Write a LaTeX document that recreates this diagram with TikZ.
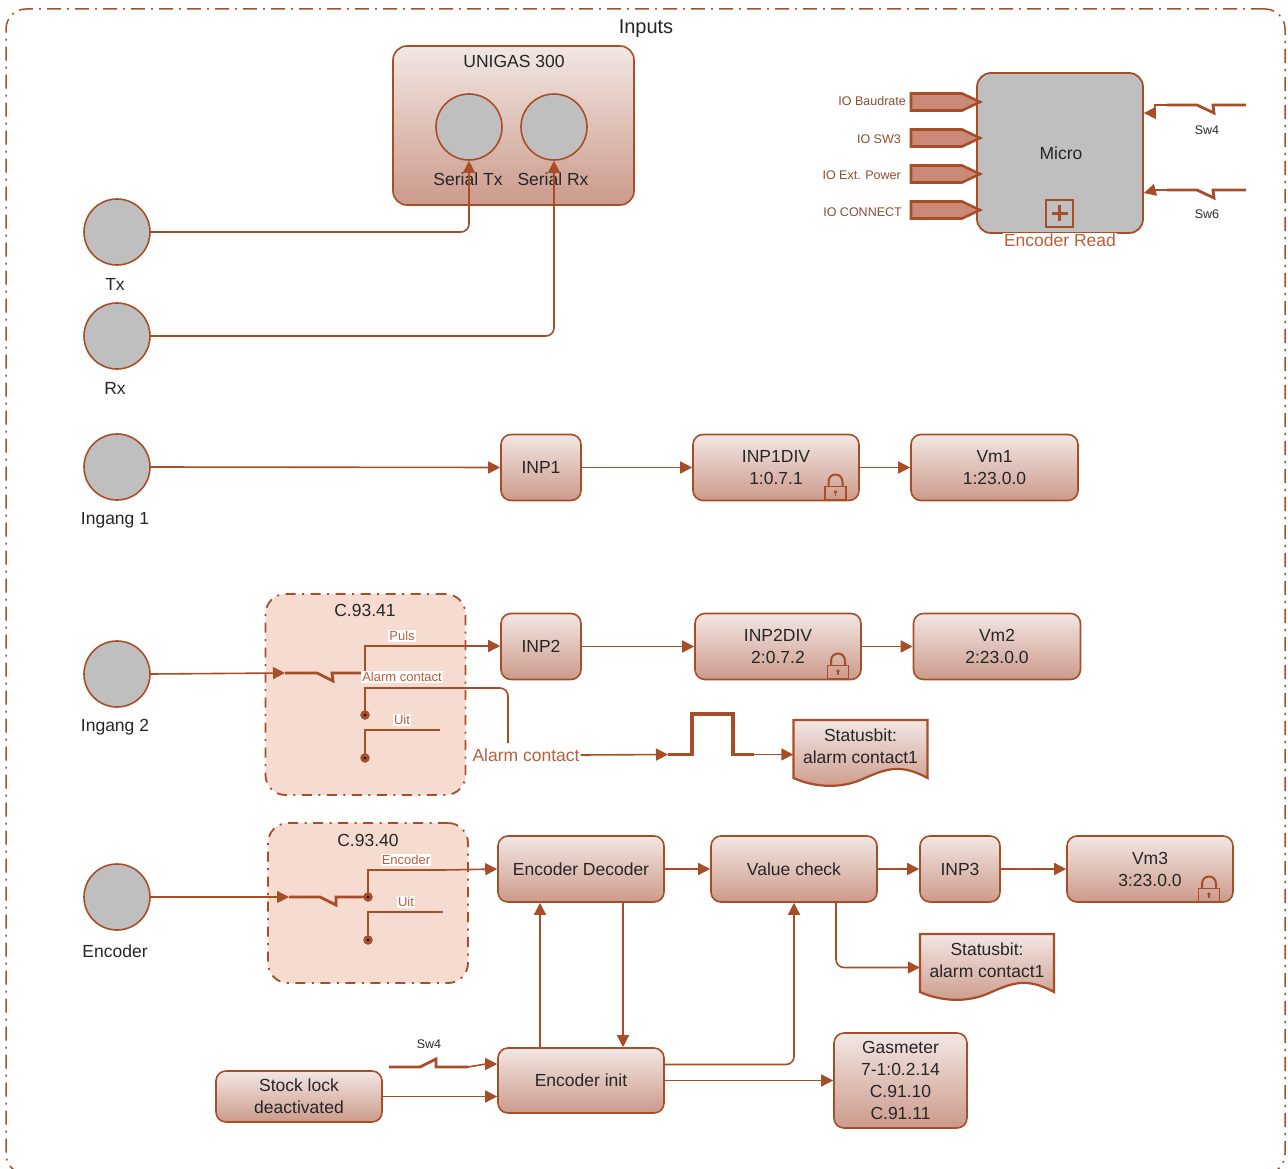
\documentclass[tikz,border=0pt]{standalone}
\usepackage{fontspec}
\setmainfont{Liberation Sans}
\usetikzlibrary{arrows.meta}
\definecolor{wirecol}{HTML}{A84E27}
\definecolor{labelcol}{HTML}{B95F3C}
\definecolor{iocol}{HTML}{8A4B32}
\definecolor{inkcol}{HTML}{262626}
\definecolor{boxtop}{HTML}{F2E7E4}
\definecolor{boxbot}{HTML}{CC9A8B}
\definecolor{greycol}{HTML}{BFBFBF}
\definecolor{tabcol}{HTML}{CB8A78}
\definecolor{groupcol}{HTML}{F5DBD0}
\newcommand{\mainsize}{\fontsize{17.5}{22}\selectfont}
\newcommand{\titlesize}{\fontsize{20}{24}\selectfont}
\newcommand{\smallsize}{\fontsize{13}{15}\selectfont}
\newcommand{\iosize}{\fontsize{12.5}{15}\selectfont}
\newcommand{\swsize}{\fontsize{12.5}{15}\selectfont}
\tikzset{
	padlock/.pic={
		\draw[wirecol,line width=1.8] (-10.5,-13.5) rectangle (10.5,-0.5);
		\draw[wirecol,line width=2] (-7,-13.5)--(-7,-18) .. controls (-7,-28) and (7,-28) .. (7,-18)--(7,-13.5);
		\fill[wirecol] (0,-8) circle (1.8);
		\draw[wirecol,line width=1.3] (0,-8)--(0,-4);
	},
	statusdoc/.pic={
		\draw[wirecol,line width=2.2,top color=boxtop,bottom color=boxbot] (0,0)--(134,0)--(134,58)
			.. controls (105,42) and (90,50) .. (67,60) .. controls (45,69) and (20,67) .. (0,58)--cycle;
		\node(-doc)[font=\mainsize,text=inkcol,align=center,minimum width=134,minimum height=52,inner sep=0] at (67,26.5){Statusbit:\\alarm contact1};
	}
}
\begin{document}
\begin{tikzpicture}[x=1pt,y=-1pt]
	\tikzstyle{value box}=[rectangle,rounded corners=10pt,draw=wirecol,line width=1.6,top color=boxtop,bottom color=boxbot,text=inkcol,font=\mainsize,align=center,minimum height=66,inner sep=0]
	\tikzstyle{grey circle}=[circle,draw=wirecol,line width=1.6,fill=greycol,minimum size=66,inner sep=0]
	\tikzstyle{group box}=[rectangle,rounded corners=20pt,draw=wirecol,line width=1.8,fill=groupcol,dash pattern=on 10pt off 6.5pt on 2pt off 6.5pt,minimum width=200,inner sep=0]
	\tikzstyle{io tab}=[draw=wirecol,line width=2.6,fill=tabcol]
	\tikzstyle{thin wire}=[draw=wirecol,line width=1.6,rounded corners=8pt]
	\tikzstyle{arrow wire}=[thin wire,-{Triangle[length=12pt,width=12pt]}]
	\tikzstyle{thick wire}=[draw=wirecol,line width=2.8]
	\tikzstyle{dot}=[circle,fill=wirecol,draw=wirecol,minimum size=9,inner sep=0]
	\tikzstyle{ink text}=[text=inkcol,font=\mainsize,align=center,inner sep=0]
	\tikzstyle{sw text}=[text=inkcol,font=\swsize,inner sep=0]
	\tikzstyle{io text}=[text=iocol,font=\iosize,anchor=east,inner sep=0]
	\tikzstyle{wire text}=[text=labelcol,font=\smallsize,fill=white,inner sep=1]
	\tikzstyle{big wire text}=[text=labelcol,font=\mainsize,fill=white,inner sep=1]
	\useasboundingbox (0,0) rectangle (1288,1169);
	% outer frame
	\node(frame)[rectangle,rounded corners=20pt,draw=wirecol,line width=1.5,dash pattern=on 14pt off 6pt on 2pt off 6pt,minimum width=1279,minimum height=1165,inner sep=0] at (645.5,591.5){};
	\node(inputs)[ink text,font=\titlesize] at (646,29){Inputs};
	% unigas
	\node(unigas)[value box,minimum width=241,minimum height=159,rounded corners=14pt] at (513.5,125.5){};
	\node(unigastext)[ink text] at (514,61){UNIGAS 300};
	\node(serialtx)[grey circle] at (469,127){};
	\node(serialrx)[grey circle] at (554,127){};
	\node(serialtxtext)[ink text] at (468,179){Serial Tx};
	\node(serialrxtext)[ink text] at (553,179){Serial Rx};
	\node(tx)[grey circle] at (117,232){};
	\node(rx)[grey circle] at (117,336){};
	\node(txtext)[ink text] at (115,284){Tx};
	\node(rxtext)[ink text] at (115,388){Rx};
	\draw[arrow wire](tx.east)-|(serialtx.south);
	\draw[arrow wire](rx.east)-|(serialrx.south);
	% micro
	\node(micro)[rectangle,rounded corners=14pt,draw=wirecol,line width=1.8,fill=greycol,minimum width=166,minimum height=160,inner sep=0] at (1060,153){};
	\node(microtext)[ink text] at (1061,153){Micro};
	\foreach \name/\ypos/\xpos/\ytxt/\txt in {baud/102/906/101/IO Baudrate,swthree/138/901/139/IO SW3,power/174/901/175/IO Ext. Power,connect/210/902/212/IO CONNECT}{
		\draw[io tab](911,\ypos-8.5)--(962,\ypos-8.5)--(980,\ypos)--(962,\ypos+8.5)--(911,\ypos+8.5)--cycle;
		\node(\name)[io text] at (\xpos,\ytxt){\txt};
	}
	\node(encplus)[draw=wirecol,line width=1.8,minimum size=27,inner sep=0] at (1059.5,213.5){};
	\draw[wirecol,line width=3.5](encplus.center)++(-8,0)--++(16,0);
	\draw[wirecol,line width=3.5](encplus.center)++(0,-8)--++(0,16);
	\node(encread)[big wire text] at (1060,240){Encoder Read};
	\draw[thick wire](1246,105)--(1213,105)--(1214,113)--(1197,105)--(1167,105);
	\draw[thick wire](1246,190)--(1213,190)--(1214,198)--(1197,190)--(1167,190);
	\coordinate(swfour) at (1167,105);
	\coordinate(swsix) at (1167,190);
	\draw[thin wire,rounded corners=0pt,-{Triangle[length=12pt,width=12pt]}](swfour)--(1155,105)--(1154,113)--(micro.east|-0,113);
	\draw[thin wire,rounded corners=0pt,-{Triangle[length=12pt,width=12pt]}](swsix)--(1155,190)--(micro.east|-0,193);
	\node(swfourtext)[sw text] at (1207,130){Sw4};
	\node(swsixtext)[sw text] at (1207,214){Sw6};
	% row 1
	\node(ingone)[grey circle] at (117,467){};
	\node(ingonetext)[ink text] at (115,520){Ingang 1};
	\node(inpone)[value box,minimum width=80] at (541,467.5){INP1};
	\node(inponediv)[value box,minimum width=166] at (776,467.5){INP1DIV\\1:0.7.1};
	\node(vmone)[value box,minimum width=167] at (994.5,467.5){Vm1\\1:23.0.0};
	\pic at (835.5,500){padlock};
	\draw[arrow wire](ingone.east)--(inpone.west);
	\draw[arrow wire](inpone.east)--(inponediv.west);
	\draw[arrow wire](inponediv.east)--(vmone.west);
	% row 2
	\node(ingtwo)[grey circle] at (117,674){};
	\node(ingtwotext)[ink text] at (115,727){Ingang 2};
	\node(groupone)[group box,minimum height=201] at (365.5,694.5){};
	\node(grouponetext)[ink text] at (365,610){C.93.41};
	\node(inptwo)[value box,minimum width=80] at (541,646.5){INP2};
	\node(inptwodiv)[value box,minimum width=166] at (778,646.5){INP2DIV\\2:0.7.2};
	\node(vmtwo)[value box,minimum width=167] at (997,646.5){Vm2\\2:23.0.0};
	\pic at (838,679){padlock};
	\coordinate(switchone) at (285,673);
	\coordinate(puls) at (440,646);
	\coordinate(alarm) at (440,688);
	\draw[arrow wire](ingtwo.east)--(switchone);
	\draw[thick wire](switchone)--(317,673)--(333,681)--(332,673)--(361,673);
	\draw[thick wire](365,673)--(365,646)--(puls);
	\node(dotalarm)[dot] at (365,715){};
	\node(dotuit)[dot] at (365,758){};
	\draw[thick wire](dotalarm.center)--(365,688)--(alarm);
	\draw[thick wire](dotuit.center)--(365,730)--(440,730);
	\node(pulstext)[wire text] at (402,636){Puls};
	\node(alarmtext)[wire text] at (402,677){Alarm contact};
	\node(uittext)[wire text] at (402,720){Uit};
	\draw[arrow wire](puls)--(inptwo.west|-puls);
	\draw[arrow wire](inptwo.east)--(inptwodiv.west);
	\draw[arrow wire](inptwodiv.east)--(vmtwo.west);
	\node(alarmlabel)[big wire text] at (526,755){Alarm contact};
	\draw[thin wire](alarm)-|(508,743);
	\coordinate(pulsein) at (668,754.5);
	\coordinate(pulseout) at (754,754.5);
	\draw[arrow wire](alarmlabel.east)--(pulsein);
	\draw[wirecol,line width=3.8](pulsein)--(692,754.5)--(692,714)--(733,714)--(733,754.5)--(pulseout);
	\pic(statusone) at (793.5,720){statusdoc};
	\draw[arrow wire](pulseout)--([yshift=-8pt]statusone-doc.west);
	% encoder row
	\node(encoder)[grey circle] at (117,897){};
	\node(encodertext)[ink text] at (115,951){Encoder};
	\node(grouptwo)[group box,minimum height=160] at (368,903){};
	\node(grouptwotext)[ink text] at (368,840){C.93.40};
	\node(decoder)[value box,minimum width=166] at (581,869){Encoder Decoder};
	\node(valcheck)[value box,minimum width=166] at (794,869){Value check};
	\node(inpthree)[value box,minimum width=80] at (960,869){INP3};
	\node(vmthree)[value box,minimum width=166] at (1150,869){Vm3\\3:23.0.0};
	\pic at (1209,902){padlock};
	\coordinate(switchtwo) at (289,897);
	\coordinate(encout) at (443,870);
	\draw[arrow wire](encoder.east)--(switchtwo);
	\draw[thick wire](switchtwo)--(320,897)--(336,905)--(336,897)--(368,897);
	\node(dotenc)[dot] at (368,897){};
	\node(dotuittwo)[dot] at (368,940){};
	\draw[thick wire](dotenc.center)--(368,870)--(encout);
	\draw[thick wire](dotuittwo.center)--(368,912)--(443,912);
	\foreach \dotname in {dotalarm,dotuit,dotenc,dotuittwo}
		\fill[black](\dotname) circle (1.3);
	\node(enctext)[wire text] at (406,860){Encoder};
	\node(uittwotext)[wire text] at (406,902){Uit};
	\draw[arrow wire](encout)--(decoder.west);
	\draw[arrow wire](decoder.east)--(valcheck.west);
	\draw[arrow wire](valcheck.east)--(inpthree.west);
	\draw[arrow wire](inpthree.east)--(vmthree.west);
	\pic(statustwo) at (920,934){statusdoc};
	\draw[arrow wire]([xshift=42pt]valcheck.south)|-([yshift=-7pt]statustwo-doc.west);
	% bottom row
	\node(encinit)[value box,minimum width=166,minimum height=65] at (581,1080.5){Encoder init};
	\node(gasmeter)[value box,minimum width=133,minimum height=95] at (900.5,1080.5){Gasmeter\\7-1:0.2.14\\C.91.10\\C.91.11};
	\node(stocklock)[value box,minimum width=166,minimum height=51] at (299,1096.5){Stock lock\\deactivated};
	\draw[arrow wire]([xshift=-41pt]encinit.north)--([xshift=-41pt]decoder.south);
	\draw[arrow wire]([xshift=42pt]decoder.south)--([xshift=42pt]encinit.north);
	\draw[arrow wire]([yshift=16pt]encinit.east)-|(valcheck.south);
	\draw[arrow wire](encinit.east)--(gasmeter.west);
	\draw[arrow wire](stocklock.east)--(encinit.west|-stocklock.east);
	\coordinate(swbottom) at (468,1067);
	\draw[thick wire](389,1067)--(420,1067)--(436,1059)--(436,1067)--(swbottom);
	\draw[thin wire,rounded corners=0pt,-{Triangle[length=12pt,width=12pt]}](swbottom)--(486,1064)--(encinit.west|-0,1064);
	\node(swbottomtext)[sw text] at (429,1044){Sw4};
\end{tikzpicture}
\end{document}
